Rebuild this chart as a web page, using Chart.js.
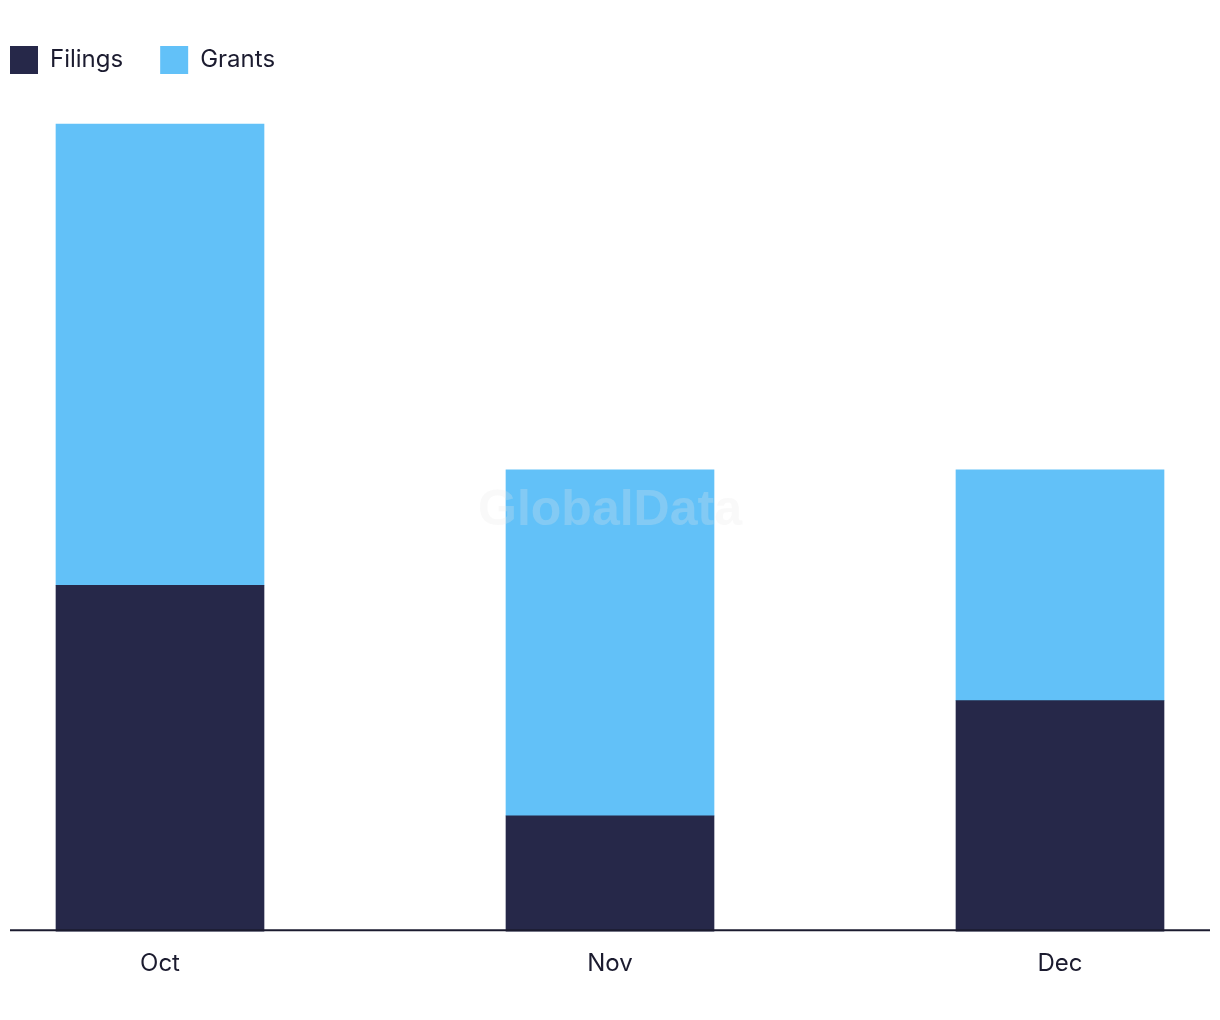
<!DOCTYPE html>
<html>
<head>
<meta charset="utf-8">
<script src="https://cdn.jsdelivr.net/npm/chart.js@4/dist/chart.umd.min.js"></script>
<style>
  body { margin: 0; background: #fff; }
</style>
</head>
<body>
<canvas id="myChart" width="1220" height="1020"></canvas>
<script>
const months = ["Oct", "Nov", "Dec"];
const filings = [3, 1, 2];
const grants = [4, 3, 2];
const yMax = 7;

// baseline spans the whole width, watermark sits over the bars
const extras = {
  id: "extras",
  afterDatasetsDraw(chart) {
    const { ctx, chartArea } = chart;
    ctx.save();
    ctx.strokeStyle = "#1b1b2f";
    ctx.lineWidth = 2;
    ctx.beginPath();
    ctx.moveTo(10, chartArea.bottom - 1);
    ctx.lineTo(chart.width - 10, chartArea.bottom - 1);
    ctx.stroke();

    ctx.font = "bold 50px 'Liberation Sans', Arial, sans-serif";
    ctx.fillStyle = "rgba(232, 232, 232, 0.25)";
    ctx.textAlign = "center";
    ctx.textBaseline = "middle";
    ctx.fillText("GlobalData", chart.width / 2, chartArea.top + (chartArea.bottom - chartArea.top) * 0.48);
    ctx.restore();
  },
};

const ctx = document.getElementById("myChart");
new Chart(ctx, {
  type: "bar",
  data: {
    labels: months,
    datasets: [
      {
        label: "Filings",
        data: filings,
        backgroundColor: "#262849",
        barThickness: 208,
        clip: false,
      },
      {
        label: "Grants",
        data: grants,
        backgroundColor: "#62c1f8",
        barThickness: 208,
        clip: false,
      },
    ],
  },
  options: {
    responsive: false,
    animation: false,
    layout: {
      padding: { top: 9, left: -27, right: 10, bottom: 24 },
    },
    scales: {
      x: {
        stacked: true,
        offset: false,
        grid: { display: false, drawTicks: false },
        border: { display: false },
        ticks: {
          padding: 18,
          color: "#1b1b2f",
          font: { family: "Inter, 'Noto Sans', sans-serif", size: 24 },
        },
      },
      xTop: {
        position: "top",
        grid: { display: false, drawTicks: false },
        border: { display: false },
        ticks: { display: false },
        afterFit(scale) {
          scale.height = 40;
        },
      },
      y: {
        stacked: true,
        min: 0,
        max: yMax,
        grid: { display: false, drawTicks: false },
        border: { display: false },
        ticks: { display: false },
        afterFit(scale) {
          scale.width = 187;
        },
      },
      yRight: {
        position: "right",
        grid: { display: false, drawTicks: false },
        border: { display: false },
        ticks: { display: false },
        afterFit(scale) {
          scale.width = 150;
        },
      },
    },
    plugins: {
      legend: {
        align: "start",
        labels: {
          boxWidth: 28,
          boxHeight: 28,
          padding: 37,
          color: "#1b1b2f",
          font: { family: "Inter, 'Noto Sans', sans-serif", size: 24 },
        },
      },
      tooltip: { enabled: false },
    },
  },
  plugins: [extras],
});
</script>
</body>
</html>
